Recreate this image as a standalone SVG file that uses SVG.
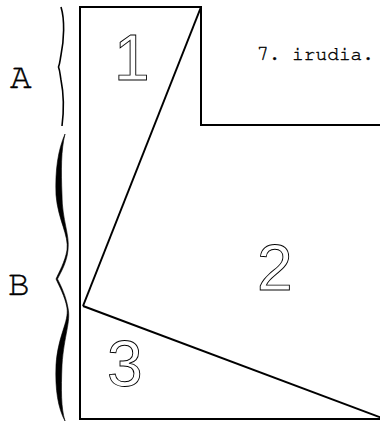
<svg xmlns="http://www.w3.org/2000/svg" width="380" height="424" viewBox="0 0 380 424">
<style>
.lbl{font-family:'Nimbus Mono PS','FreeMono','Courier','Liberation Mono',monospace;fill:#000;stroke:#000;stroke-width:0.4}
.num{font-family:'Liberation Sans',Arial,sans-serif;font-size:64px;fill:#fff;stroke:#000;stroke-width:0.9}
.edge{fill:none;stroke:#000;stroke-width:2}
</style>
<rect width="380" height="424" fill="#fff"/>
<g id="connectors">
<polyline class="edge" points="390,125 201,125 201,7 80,7 80,419 390,419"/>
<line class="edge" x1="201" y1="7" x2="83" y2="306"/>
<line class="edge" x1="83" y1="306" x2="382" y2="418"/>
</g>
<g id="brace-A">
<path d="M61,7 C65,20 64,40 61,55 C60,60 60,63 58.5,67 C60,71 60,74 61,80 C64,95 64,110 62,126" fill="none" stroke="#000" stroke-width="1.6"/>
</g>
<g id="brace-B">
<path d="M65,134 C58,150 55,170 56,195 C58,220 69,235 67,250 C65,262 59,272 56,279 C59,286 65,296 67,308 C69,322 58,335 56,365 C55,390 58,408 65,421 C61,408 61,390 62,365 C64,335 71,322 68,308 C66,296 61,286 57.5,279 C61,272 67,262 68,250 C70,235 62,220 62,195 C61,170 61,150 65,134 Z" fill="#000" stroke="#000" stroke-width="0.6"/>
</g>
<g id="label-A"><text class="lbl" x="10" y="88" font-size="36">A</text></g>
<g id="label-B"><text class="lbl" x="8" y="295" font-size="36">B</text></g>
<g id="caption"><text class="lbl" x="257" y="60" font-size="19.5">7. irudia.</text></g>
<g id="region-1"><text class="num" x="114" y="80">1</text></g>
<g id="region-2"><text class="num" x="257" y="290">2</text></g>
<g id="region-3"><text class="num" x="107" y="386" font-size="66">3</text></g>
</svg>
